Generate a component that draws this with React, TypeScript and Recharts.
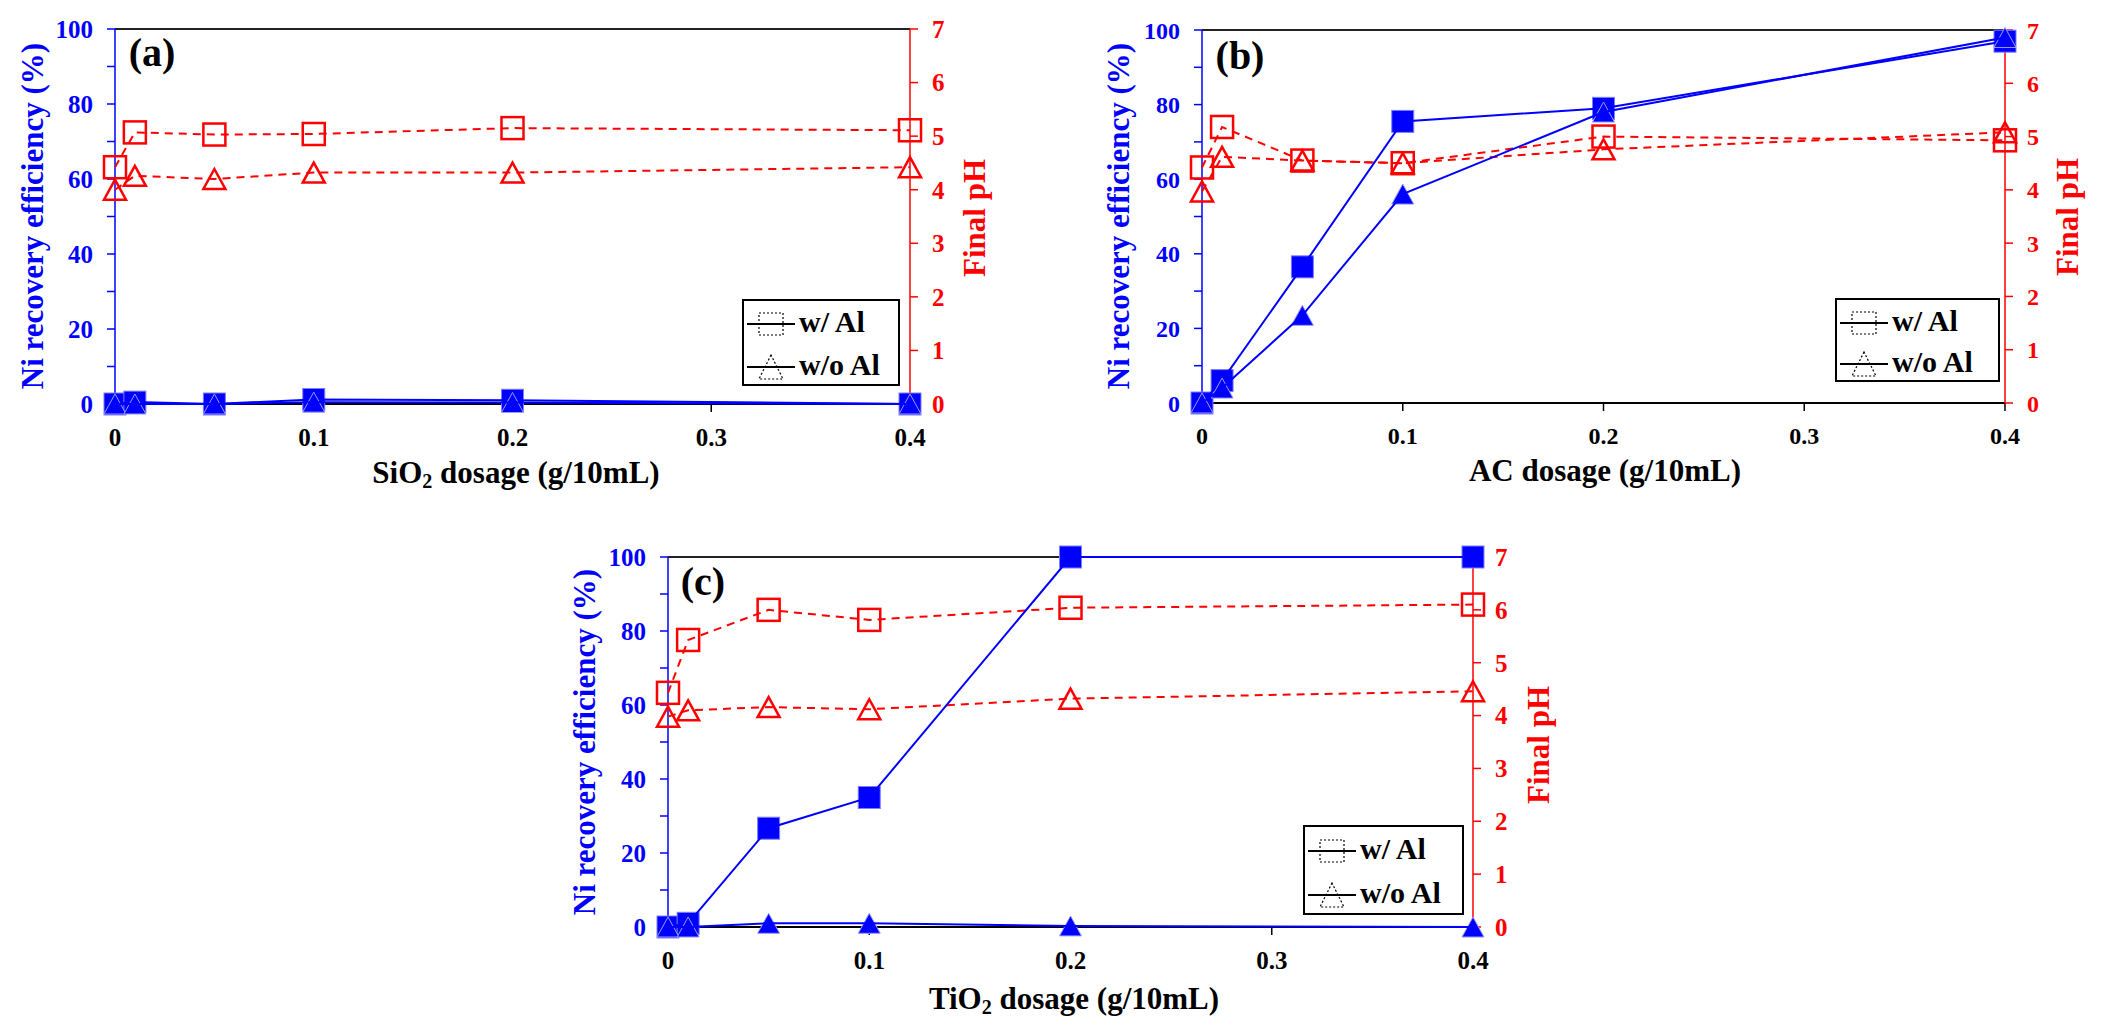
import React from 'react';
import { LineChart, Line, XAxis, YAxis, ReferenceLine } from 'recharts';

const FONT = '"Liberation Serif", "Times New Roman", serif';
const BLUE = '#0000ff';
const RED = '#ff0000';

// shared x values and ticks
const dosage = [0, 0.01, 0.05, 0.1, 0.2, 0.4];
const xTicks = [0, 0.1, 0.2, 0.3, 0.4];
const niTicks = [0, 10, 20, 30, 40, 50, 60, 70, 80, 90, 100];
const phTicks = [0, 1, 2, 3, 4, 5, 6, 7];

// (a) SiO2
const sio2NiWithAl = [0, 0.5, 0, 1.2, 1, 0];
const sio2NiWithoutAl = [0, 0, 0, 0.5, 0.4, 0];
const sio2PhWithAl = [4.42, 5.07, 5.03, 5.04, 5.15, 5.11];
const sio2PhWithoutAl = [4.0, 4.26, 4.2, 4.32, 4.32, 4.42];

// (b) AC
const acNiWithAl = [0, 6, 36.5, 75.5, 79, 97];
const acNiWithoutAl = [0, 4, 23.5, 56, 78, 98];
const acPhWithAl = [4.42, 5.18, 4.55, 4.5, 5.0, 4.93];
const acPhWithoutAl = [3.97, 4.62, 4.55, 4.5, 4.76, 5.08];

// (c) TiO2
const tio2NiWithAl = [0, 1, 26.7, 35, 100, 100];
const tio2NiWithoutAl = [0, 0, 1, 1, 0.3, 0];
const tio2PhWithAl = [4.43, 5.43, 6.0, 5.81, 6.04, 6.1];
const tio2PhWithoutAl = [3.98, 4.1, 4.16, 4.12, 4.32, 4.46];

const legendLabels = ['w/ Al', 'w/o Al'];

const square = (fill: string, stroke: string, sw: number, size: number) => (p: any) => {
  const { cx, cy, index } = p;
  if (cx == null || cy == null) return <g key={`s${index}`} />;
  return (
    <rect key={`s${index}`} x={cx - size / 2} y={cy - size / 2} width={size} height={size}
      fill={fill} stroke={stroke} strokeWidth={sw} />
  );
};

const triangle = (fill: string, stroke: string, sw: number, w: number, h: number) => (p: any) => {
  const { cx, cy, index } = p;
  if (cx == null || cy == null) return <g key={`t${index}`} />;
  const pts = `${cx},${cy - h / 2} ${cx - w / 2},${cy + h / 2} ${cx + w / 2},${cy + h / 2}`;
  return <polygon key={`t${index}`} points={pts} fill={fill} stroke={stroke} strokeWidth={sw} strokeLinejoin="miter" />;
};

type Rect = { x: number; y: number; w: number; h: number };

function Panel({ box, plot, ni1, ni2, ph1, ph2, tickFont }: any) {
  const axisW = 60;
  const xAxisH = 40;
  const margin = {
    left: plot.x0 - box.x - axisW,
    right: box.x + box.w - plot.x1 - axisW,
    top: plot.y0 - box.y,
    bottom: box.y + box.h - plot.y1 - xAxisH,
  };
  const rows = dosage.map((x, i) => ({ x, niAl: ni1[i], niNo: ni2[i], phAl: ph1[i], phNo: ph2[i] }));
  const tickBase = { fontSize: tickFont, fontWeight: 700, fontFamily: FONT };

  return (
    <div style={{ position: 'absolute', left: box.x, top: box.y }}>
      <LineChart width={box.w} height={box.h} data={rows} margin={margin}>
        <XAxis dataKey="x" type="number" domain={[0, 0.4]} ticks={xTicks} interval={0}
          height={xAxisH} tickSize={8} tickMargin={16}
          tickFormatter={(v: number) => String(v)}
          tick={{ ...tickBase, fill: '#000' }}
          axisLine={{ stroke: '#000', strokeWidth: 2 }}
          tickLine={{ stroke: '#000', strokeWidth: 1.5 }} />
        <YAxis yAxisId="ni" domain={[0, 100]} ticks={niTicks} interval={0} width={axisW}
          tickSize={8} tickMargin={14}
          tickFormatter={(v: number) => (v % 20 === 0 ? String(v) : '')}
          tick={{ ...tickBase, fill: BLUE }}
          axisLine={{ stroke: BLUE, strokeWidth: 1.5 }}
          tickLine={{ stroke: BLUE, strokeWidth: 1.5 }} />
        <YAxis yAxisId="ph" orientation="right" domain={[0, 7]} ticks={phTicks} interval={0} width={axisW}
          tickSize={8} tickMargin={14}
          tick={{ ...tickBase, fill: RED }}
          axisLine={{ stroke: RED, strokeWidth: 1.5 }}
          tickLine={{ stroke: RED, strokeWidth: 1.5 }} />
        <ReferenceLine yAxisId="ni" y={100} stroke="#222" strokeWidth={2} />
        <Line yAxisId="ph" dataKey="phAl" stroke={RED} strokeWidth={2} strokeDasharray="8 6" zIndex={600}
          dot={square('none', RED, 2.5, 22)} activeDot={false} isAnimationActive={false} />
        <Line yAxisId="ph" dataKey="phNo" stroke={RED} strokeWidth={2} strokeDasharray="8 6" zIndex={600}
          dot={triangle('none', RED, 2.5, 22, 20)} activeDot={false} isAnimationActive={false} />
        <Line yAxisId="ni" dataKey="niAl" stroke={BLUE} strokeWidth={2} zIndex={600}
          dot={square(BLUE, '#7d7dff', 1, 22)} activeDot={false} isAnimationActive={false} />
        <Line yAxisId="ni" dataKey="niNo" stroke={BLUE} strokeWidth={2} zIndex={600}
          dot={triangle(BLUE, '#9a9aff', 1, 22, 20)} activeDot={false} isAnimationActive={false} />
      </LineChart>
    </div>
  );
}

function LegendBox({ r }: { r: Rect }) {
  const rowsY = [r.h * 0.27, r.h * 0.76];
  return (
    <div style={{ position: 'absolute', left: r.x, top: r.y, width: r.w, height: r.h,
      border: '2px solid #000', boxSizing: 'border-box', background: '#fff' }}>
      {legendLabels.map((lab, i) => (
        <React.Fragment key={lab}>
          <svg width={48} height={28} style={{ position: 'absolute', left: 3, top: rowsY[i] - 14 }}>
            <line x1={0} y1={14} x2={48} y2={14} stroke="#000" strokeWidth={2} />
            {i === 0 ? (
              <rect x={12} y={3} width={24} height={22} fill="none" stroke="#000" strokeWidth={1.2} strokeDasharray="2 2" />
            ) : (
              <polygon points="24,2 12,26 36,26" fill="none" stroke="#000" strokeWidth={1.2} strokeDasharray="2 2" />
            )}
          </svg>
          <div style={{ position: 'absolute', left: 55, top: rowsY[i] - 17, fontFamily: FONT, fontWeight: 700,
            fontSize: 30, lineHeight: '30px', whiteSpace: 'nowrap', color: '#000' }}>{lab}</div>
        </React.Fragment>
      ))}
    </div>
  );
}

function Txt({ x, y, size, color, rotate, children }: any) {
  return (
    <div style={{ position: 'absolute', left: x, top: y, fontFamily: FONT, fontWeight: 700, fontSize: size,
      lineHeight: 1, color, whiteSpace: 'nowrap',
      transform: `translate(-50%, -50%)${rotate ? ' rotate(-90deg)' : ''}` }}>
      {children}
    </div>
  );
}

const sub = (s: string) => <sub style={{ fontSize: '0.65em', verticalAlign: '-0.25em' }}>{s}</sub>;

export default function App() {
  return (
    <div style={{ position: 'absolute', left: 0, top: 0, width: 2106, height: 1032, background: '#fff', overflow: 'hidden' }}>
      <Panel box={{ x: 0, y: 0, w: 1050, h: 520 }} plot={{ x0: 115, x1: 910, y0: 29, y1: 404 }}
        ni1={sio2NiWithAl} ni2={sio2NiWithoutAl} ph1={sio2PhWithAl} ph2={sio2PhWithoutAl} tickFont={25} />
      <Panel box={{ x: 1050, y: 0, w: 1056, h: 520 }} plot={{ x0: 1202, x1: 2005, y0: 30, y1: 403 }}
        ni1={acNiWithAl} ni2={acNiWithoutAl} ph1={acPhWithAl} ph2={acPhWithoutAl} tickFont={24} />
      <Panel box={{ x: 520, y: 500, w: 1100, h: 532 }} plot={{ x0: 668, x1: 1473, y0: 557, y1: 927 }}
        ni1={tio2NiWithAl} ni2={tio2NiWithoutAl} ph1={tio2PhWithAl} ph2={tio2PhWithoutAl} tickFont={25} />

      <LegendBox r={{ x: 742, y: 299, w: 158, h: 87 }} />
      <LegendBox r={{ x: 1835, y: 298, w: 165, h: 84 }} />
      <LegendBox r={{ x: 1303, y: 825, w: 161, h: 90 }} />

      <Txt x={152} y={53} size={40} color="#000">(a)</Txt>
      <Txt x={1240} y={56} size={40} color="#000">(b)</Txt>
      <Txt x={703} y={582} size={40} color="#000">(c)</Txt>

      <Txt x={32} y={216} size={31} color={BLUE} rotate>Ni recovery efficiency (%)</Txt>
      <Txt x={1118} y={216} size={31} color={BLUE} rotate>Ni recovery efficiency (%)</Txt>
      <Txt x={584} y={742} size={31} color={BLUE} rotate>Ni recovery efficiency (%)</Txt>

      <Txt x={974} y={218} size={31} color={RED} rotate>Final pH</Txt>
      <Txt x={2067} y={217} size={31} color={RED} rotate>Final pH</Txt>
      <Txt x={1538} y={745} size={31} color={RED} rotate>Final pH</Txt>

      <Txt x={516} y={474} size={31} color="#000">SiO{sub('2')} dosage (g/10mL)</Txt>
      <Txt x={1605} y={470} size={31} color="#000">AC dosage (g/10mL)</Txt>
      <Txt x={1074} y={1000} size={31} color="#000">TiO{sub('2')} dosage (g/10mL)</Txt>
    </div>
  );
}
